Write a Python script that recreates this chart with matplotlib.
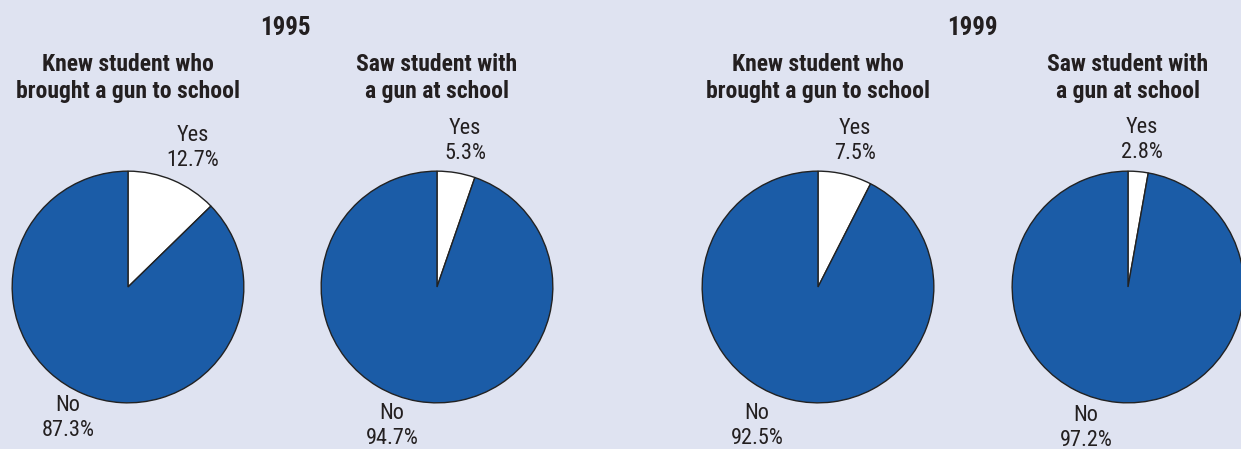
import matplotlib
matplotlib.use('Agg')
import matplotlib.pyplot as plt
from matplotlib import font_manager

# data
years = ['1995', '1999']
titles = ['Knew student who\nbrought a gun to school', 'Saw student with\na gun at school']
yes_vals = [12.7, 5.3, 7.5, 2.8]
no_vals = [87.3, 94.7, 92.5, 97.2]

W, H = 1241, 449
bg = '#dfe3f1'
blue = '#1b5ca7'
txt = '#231f20'

# condensed face, like the original
names = {f.name for f in font_manager.fontManager.ttflist}
wanted = ['Roboto Condensed', 'Fira Sans Condensed', 'PT Sans Narrow',
          'Barlow Semi Condensed', 'Archivo Narrow', 'DejaVu Sans']
plt.rcParams['font.family'] = [f for f in wanted if f in names]

fig = plt.figure(figsize=(W / 100, H / 100), dpi=100, facecolor=bg)

# pie centres / radius in pixels
centres = [(128, 287), (437, 287), (818, 287), (1128, 287)]
r = 117
yes_pos = [(193, 148), (465, 141), (855, 141), (1142, 140)]
no_pos = [(68, 418), (392, 426), (757, 426), (1086, 428)]
year_x = [285, 972]


def fx(x):
    return x / W


def fy(y):
    return 1 - y / H


for i, (cx, cy) in enumerate(centres):
    ax = fig.add_axes([fx(cx - r), fy(cy + r), 2 * r / W, 2 * r / H])
    ax.pie([yes_vals[i], no_vals[i]], colors=['white', blue], startangle=90,
           counterclock=False, radius=1,
           wedgeprops=dict(edgecolor='#222222', linewidth=1.0))
    ax.set_xlim(-1.01, 1.01)
    ax.set_ylim(-1.01, 1.01)
    ax.set_aspect('auto')
    ax.axis('off')

    fig.text(fx(cx), fy(78), titles[i % 2], ha='center', va='center',
             fontsize=17, fontweight='bold', color=txt, linespacing=1.2)
    fig.text(fx(yes_pos[i][0]), fy(yes_pos[i][1]), 'Yes\n%.1f%%' % yes_vals[i],
             ha='center', va='center', fontsize=16, color=txt, linespacing=1.25)
    fig.text(fx(no_pos[i][0]), fy(no_pos[i][1]), 'No\n%.1f%%' % no_vals[i],
             ha='center', va='center', fontsize=16, color=txt, linespacing=1.25)

for k in range(2):
    fig.text(fx(year_x[k]), fy(28), years[k], ha='center', va='center',
             fontsize=18, fontweight='bold', color=txt)

fig.savefig('out.png', dpi=100, facecolor=bg)
